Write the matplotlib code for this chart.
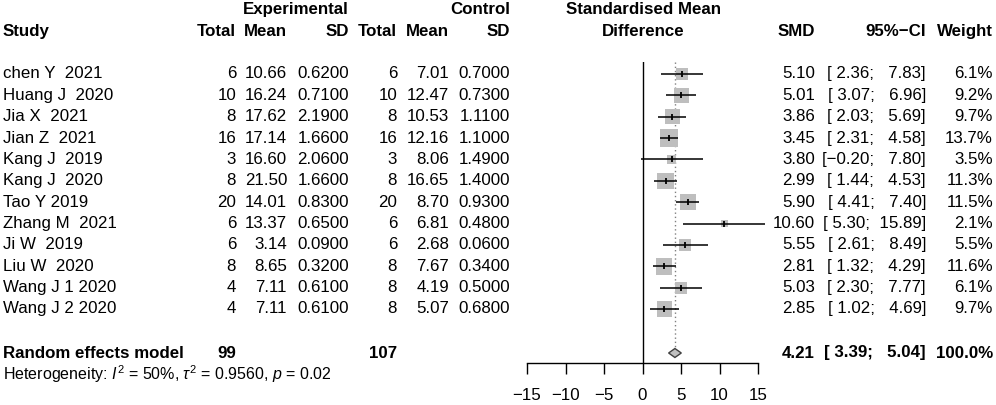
import matplotlib
matplotlib.use("Agg")
import matplotlib.pyplot as plt
import matplotlib.transforms as mtransforms
import numpy as np

# ---- data ----
studies = ["chen Y  2021", "Huang J  2020", "Jia X  2021", "Jian Z  2021",
           "Kang J  2019", "Kang J  2020", "Tao Y 2019", "Zhang M  2021",
           "Ji W  2019", "Liu W  2020", "Wang J 1 2020", "Wang J 2 2020"]
n_e = [6, 10, 8, 16, 3, 8, 20, 6, 6, 8, 4, 4]
mean_e = [10.66, 16.24, 17.62, 17.14, 16.60, 21.50, 14.01, 13.37, 3.14, 8.65, 7.11, 7.11]
sd_e = [0.62, 0.71, 2.19, 1.66, 2.06, 1.66, 0.83, 0.65, 0.09, 0.32, 0.61, 0.61]
n_c = [6, 10, 8, 16, 3, 8, 20, 6, 6, 8, 8, 8]
mean_c = [7.01, 12.47, 10.53, 12.16, 8.06, 16.65, 8.70, 6.81, 2.68, 7.67, 4.19, 5.07]
sd_c = [0.70, 0.73, 1.11, 1.10, 1.49, 1.40, 0.93, 0.48, 0.06, 0.34, 0.50, 0.68]
smd = [5.10, 5.01, 3.86, 3.45, 3.80, 2.99, 5.90, 10.60, 5.55, 2.81, 5.03, 2.85]
ci_lo = [2.36, 3.07, 2.03, 2.31, -0.20, 1.44, 4.41, 5.30, 2.61, 1.32, 2.30, 1.02]
ci_hi = [7.83, 6.96, 5.69, 4.58, 7.80, 4.53, 7.40, 15.89, 8.49, 4.29, 7.77, 4.69]
weight = [6.1, 9.2, 9.7, 13.7, 3.5, 11.3, 11.5, 2.1, 5.5, 11.6, 6.1, 9.7]

total_e = 99
total_c = 107
pooled = 4.21
pooled_lo = 3.39
pooled_hi = 5.04
pooled_w = 100.0
i2 = 50
tau2 = 0.9560
pval = 0.02

xticks = [-15, -10, -5, 0, 5, 10, 15]

# ---- style ----
plt.rcParams['font.family'] = ['Liberation Sans', 'DejaVu Sans']
plt.rcParams['mathtext.fontset'] = 'custom'
plt.rcParams['mathtext.rm'] = 'Liberation Sans'
plt.rcParams['mathtext.it'] = 'Liberation Sans:italic'
plt.rcParams['mathtext.bf'] = 'Liberation Sans:bold'
plt.rcParams['axes.unicode_minus'] = True
FS = 12.2

W, H = 996, 405
fig = plt.figure(figsize=(W / 100, H / 100), dpi=100)
fig.patch.set_facecolor('white')

ax_l, ax_r, ax_t, ax_b = 527, 758, 62, 363
ax = fig.add_axes([ax_l / W, 1 - ax_b / H, (ax_r - ax_l) / W, (ax_b - ax_t) / H])
row0, drow = 74, 21.36
ax.set_xlim(-15, 15)
ax.set_ylim((ax_b - row0) / drow, (ax_t - row0) / drow)
for s in ['top', 'left', 'right']:
    ax.spines[s].set_visible(False)
ax.spines['bottom'].set_bounds(-15, 15)
ax.spines['bottom'].set_linewidth(1.0)
ax.set_yticks([])
ax.set_xticks(xticks)
ax.tick_params(axis='x', direction='out', length=8, width=1.0, labelsize=FS, pad=10)
ax.patch.set_alpha(0)

def prow(px):
    return (px - row0) / drow

rows = np.arange(len(studies))
pool_row = prow(353)
het_row = prow(374)

# zero line and pooled dotted line
ax.axvline(0, color='black', lw=1.0)
ax.plot([pooled, pooled], [prow(ax_t), prow(349)], color='#808080', lw=1.0,
        linestyle=(0, (1, 2)))

# squares (area proportional to weight)
side_px = 4.9 * np.sqrt(np.array(weight))
sizes = (side_px * 72 / 100) ** 2
ax.scatter(smd, rows, s=sizes, marker='s', color='#BEBEBE', edgecolors='none',
           zorder=2, clip_on=False)
# CI lines
ax.hlines(rows, ci_lo, ci_hi, color='black', lw=1.1, zorder=3, clip_on=False)
ax.plot(smd, rows, linestyle='none', marker='|', color='black', markersize=5,
        markeredgewidth=1.3, zorder=4, clip_on=False)

# diamond
dh = 0.21
ax.fill([pooled_lo, pooled, pooled_hi, pooled],
        [pool_row, pool_row - dh, pool_row, pool_row + dh],
        facecolor='#C0C0C0', edgecolor='#404040', lw=1.0, zorder=3, clip_on=False)

# ---- text columns ----
tr = mtransforms.blended_transform_factory(fig.transFigure, ax.transData)

def txt(px, y, s, ha='right', bold=False, size=FS):
    fig.text(px / W, y, s, transform=tr, ha=ha, va='center', fontsize=size,
             fontweight='bold' if bold else 'normal')

hdr1 = prow(10)
hdr2 = prow(32)
LX = 3
txt(349, hdr1, "Experimental", bold=True)
txt(510, hdr1, "Control", bold=True)
txt(643, hdr1, "Standardised Mean", ha='center', bold=True)
txt(LX, hdr2, "Study", ha='left', bold=True)
txt(236, hdr2, "Total", bold=True)
txt(287, hdr2, "Mean", bold=True)
txt(349, hdr2, "SD", bold=True)
txt(397, hdr2, "Total", bold=True)
txt(449, hdr2, "Mean", bold=True)
txt(510, hdr2, "SD", bold=True)
txt(643, hdr2, "Difference", ha='center', bold=True)
txt(815, hdr2, "SMD", bold=True)
txt(926, hdr2, "95%\u2212CI", bold=True)
txt(993, hdr2, "Weight", bold=True)

def fmt_ci(lo, hi):
    return ("[%5.2f;  %5.2f]" % (lo, hi)).replace('-', '\u2212')

for i, r in enumerate(rows):
    txt(LX, r, studies[i], ha='left')
    txt(236, r, "%d" % n_e[i])
    txt(287, r, "%.2f" % mean_e[i])
    txt(349, r, "%.4f" % sd_e[i])
    txt(397, r, "%d" % n_c[i])
    txt(449, r, "%.2f" % mean_c[i])
    txt(510, r, "%.4f" % sd_c[i])
    txt(815, r, "%.2f" % smd[i])
    txt(926, r, fmt_ci(ci_lo[i], ci_hi[i]))
    txt(993, r, "%.1f%%" % weight[i])

txt(LX, pool_row, "Random effects model", ha='left', bold=True)
txt(236, pool_row, "%d" % total_e, bold=True)
txt(397, pool_row, "%d" % total_c, bold=True)
txt(815, pool_row, "%.2f" % pooled, bold=True)
txt(926, pool_row, fmt_ci(pooled_lo, pooled_hi), bold=True)
txt(993, pool_row, "%.1f%%" % pooled_w, bold=True)

het = (r"Heterogeneity: $I^2$ = %d%%, $\tau^2$ = %.4f, $p$ = %.2f" % (i2, tau2, pval))
txt(LX, het_row, het, ha='left', size=11.5)

fig.savefig("out.png", dpi=100, facecolor='white')
